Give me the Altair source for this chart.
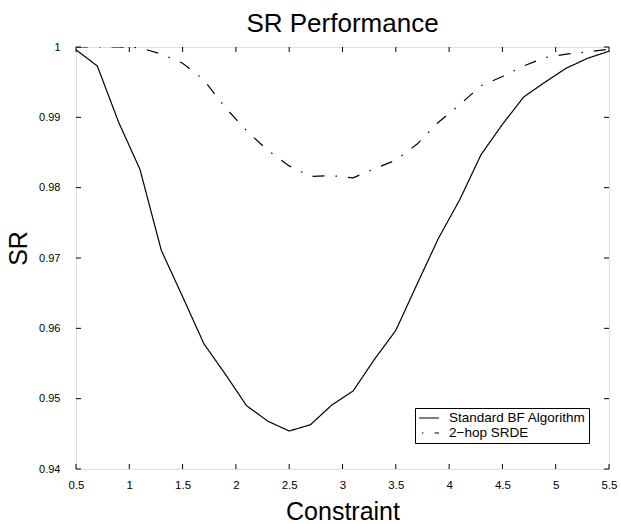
import altair as alt
import pandas as pd

constraint = [0.5, 0.7, 0.9, 1.1, 1.3, 1.5, 1.7, 1.9, 2.1, 2.3, 2.5, 2.7, 2.9,
              3.1, 3.3, 3.5, 3.7, 3.9, 4.1, 4.3, 4.5, 4.7, 4.9, 5.1, 5.3, 5.5]
sr_standard = [0.9996, 0.9973, 0.9893, 0.9826, 0.9711, 0.9645, 0.9578, 0.9535,
               0.9490, 0.9468, 0.9454, 0.9463, 0.9491, 0.9511, 0.9556, 0.9597,
               0.9663, 0.9728, 0.9783, 0.9847, 0.9890, 0.9929, 0.9950, 0.9970,
               0.9984, 0.9994]
sr_srde = [1.0000, 1.0000, 1.0000, 0.9999, 0.9990, 0.9977, 0.9953, 0.9914,
           0.9881, 0.9853, 0.9831, 0.9816, 0.9817, 0.9814, 0.9827, 0.9839,
           0.9862, 0.9893, 0.9918, 0.9945, 0.9958, 0.9973, 0.9985, 0.9990,
           0.9993, 0.9997]
series_names = ["Standard BF Algorithm", "2\u2212hop SRDE"]
x_ticks = [0.5, 1, 1.5, 2, 2.5, 3, 3.5, 4, 4.5, 5, 5.5]
y_ticks = [0.94, 0.95, 0.96, 0.97, 0.98, 0.99, 1.0]

W, H = 533, 422
FONT = "Liberation Sans"

rows = []
for i, c in enumerate(constraint):
    rows.append({"Constraint": c, "SR": sr_standard[i], "series": series_names[0]})
    rows.append({"Constraint": c, "SR": sr_srde[i], "series": series_names[1]})
df = pd.DataFrame(rows)

xs = alt.Scale(domain=[0.5, 5.5], nice=False, zero=False)
ys = alt.Scale(domain=[0.94, 1.0], nice=False, zero=False)

lines = alt.Chart(df).mark_line(color="black", strokeWidth=1.2, clip=True).encode(
    x=alt.X("Constraint:Q", scale=xs,
            axis=alt.Axis(values=x_ticks, format="~g", title="Constraint",
                          ticks=False, domain=False, grid=False, labelFlush=False,
                          labelFontSize=11.5, labelPadding=10, labelColor="black",
                          titleFontSize=25, titleFontWeight="normal",
                          titlePadding=9, titleColor="black",
                          labelFont=FONT, titleFont=FONT)),
    y=alt.Y("SR:Q", scale=ys,
            axis=alt.Axis(values=y_ticks, format="~g", title="SR",
                          ticks=False, domain=False, grid=False, labelFlush=False,
                          labelFontSize=11, labelPadding=16, labelColor="black",
                          titleFontSize=25, titleFontWeight="normal",
                          titlePadding=7, titleColor="black", titleY=201,
                          labelFont=FONT, titleFont=FONT)),
    strokeDash=alt.StrokeDash(
        "series:N",
        scale=alt.Scale(domain=series_names, range=[[1, 0], [12, 11, 1.5, 11]]),
        sort=series_names,
        legend=alt.Legend(
            title=None, orient="none", legendX=339, legendY=361,
            strokeColor="black", fillColor="white", padding=3,
            symbolType="stroke", symbolSize=400, symbolStrokeWidth=1.2,
            symbolStrokeColor="black", symbolDashOffset=20,
            labelFontSize=13.5, labelFont=FONT, labelColor="black",
            labelLimit=300, rowPadding=1, labelOffset=9, clipHeight=14,
        ),
    ),
    detail="series:N",
)

xt = pd.DataFrame({"v": x_ticks})
yt = pd.DataFrame({"v": y_ticks})

tick_bottom = alt.Chart(xt).mark_rule(color="black", strokeWidth=1).encode(
    x=alt.X("v:Q", scale=xs), y=alt.value(H), y2=alt.value(H - 5))
tick_top = alt.Chart(xt).mark_rule(color="black", strokeWidth=1).encode(
    x=alt.X("v:Q", scale=xs), y=alt.value(0), y2=alt.value(5))
tick_left = alt.Chart(yt).mark_rule(color="black", strokeWidth=1).encode(
    y=alt.Y("v:Q", scale=ys), x=alt.value(0), x2=alt.value(5))
tick_right = alt.Chart(yt).mark_rule(color="black", strokeWidth=1).encode(
    y=alt.Y("v:Q", scale=ys), x=alt.value(W), x2=alt.value(W - 5))

chart = alt.layer(lines, tick_bottom, tick_top, tick_left, tick_right).properties(
    width=W, height=H,
    title=alt.TitleParams("SR Performance", fontSize=26, font=FONT,
                          fontWeight="normal", color="black", anchor="middle",
                          offset=4),
    autosize=alt.AutoSizeParams(type="none"),
    padding={"left": 76, "top": 47, "right": 12, "bottom": 55},
).configure_view(
    stroke="black", strokeWidth=1.6
).configure(background="white")

chart.save("out.html", embed_options={"renderer": "svg", "actions": False})
